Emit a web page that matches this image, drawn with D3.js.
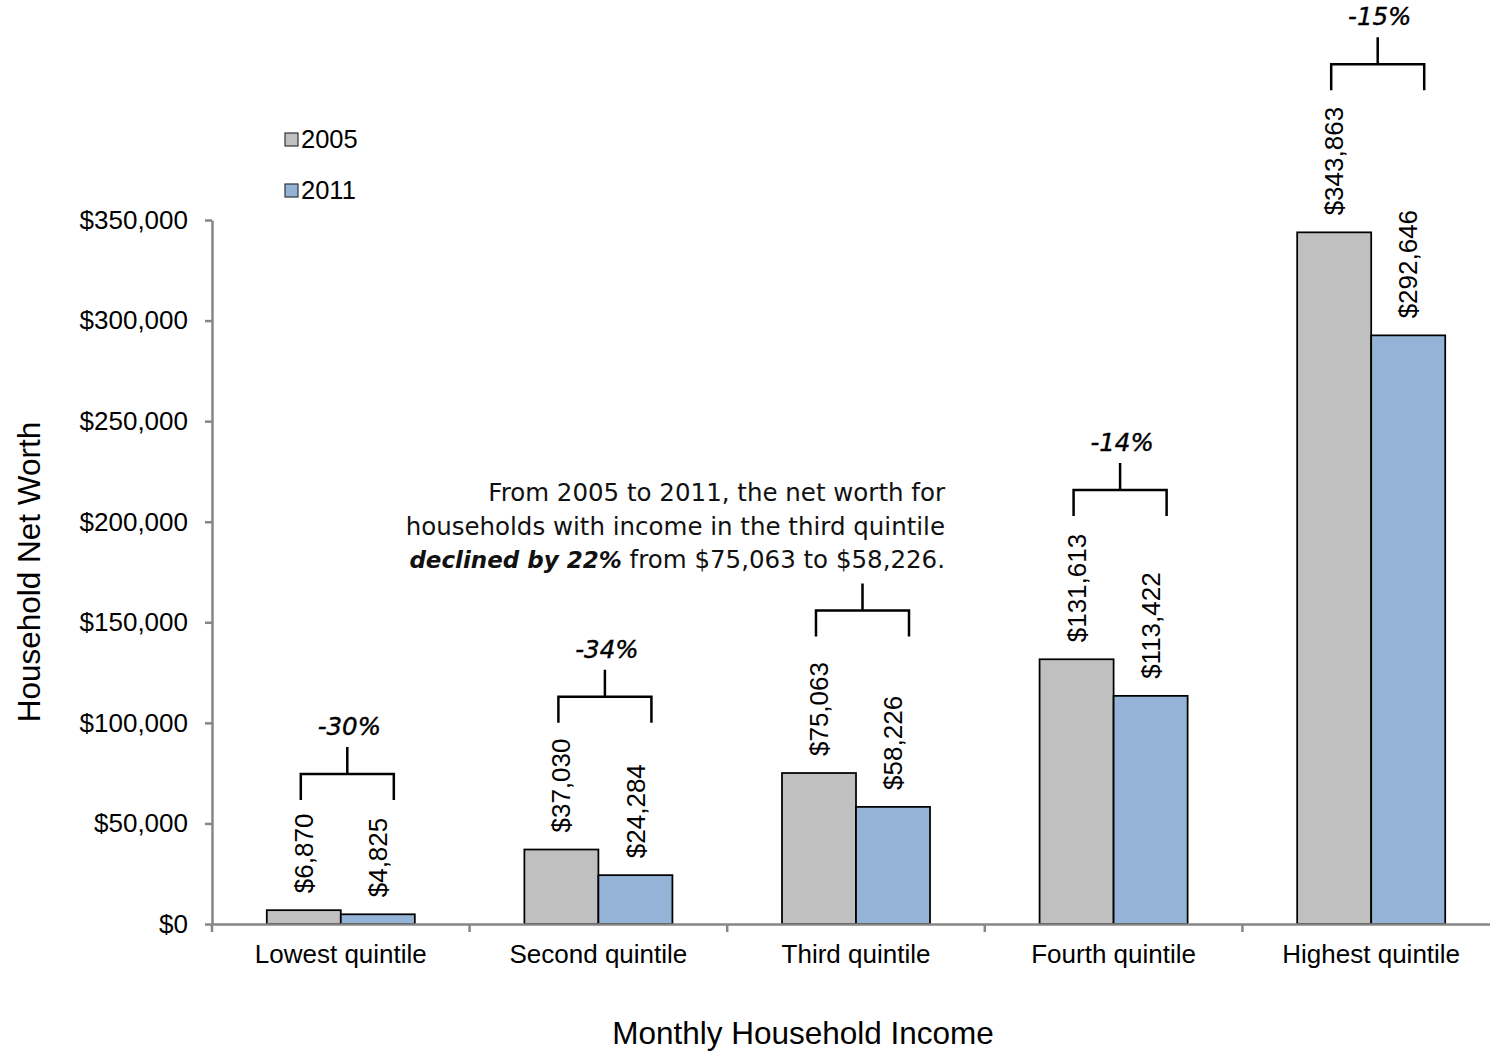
<!DOCTYPE html>
<html>
<head>
<meta charset="utf-8">
<script src="https://cdn.jsdelivr.net/npm/d3@7"></script>
<style>
  html, body { margin: 0; padding: 0; background: #fff; }
  svg { display: block; }
</style>
</head>
<body>
<svg id="chart" width="1490" height="1053"></svg>
<script>
// Household net worth by income quintile, 2005 vs 2011
const categories = ["Lowest quintile", "Second quintile", "Third quintile", "Fourth quintile", "Highest quintile"];
const years = ["2005", "2011"];
const values2005 = [6870, 37030, 75063, 131613, 343863];
const values2011 = [4825, 24284, 58226, 113422, 292646];
const yTickValues = [0, 50000, 100000, 150000, 200000, 250000, 300000, 350000];
// dollar level at which each change bracket is drawn
const bracketLevels = [74600, 113000, 155800, 215800, 427400];
// the third quintile carries a text note instead of a percent label
const showPercent = [true, true, false, true, true];
const noteLines = [
  [{ t: "From 2005 to 2011, the net worth for" }],
  [{ t: "households with income in the third quintile" }],
  [{ t: "declined by 22%", strong: true }, { t: " from $75,063 to $58,226." }]
];

const colors = { "2005": "#c0c0c0", "2011": "#95b3d7" };
const axisColor = "#868686";
const arial = "'Liberation Sans', Arial, sans-serif";
const gothic = "'DejaVu Sans', sans-serif";

const svg = d3.select("#chart");

const x = d3.scaleBand().domain(categories).range([212, 1500]).padding(0);
const xs = d3.scaleBand().domain(years).range([0, x.bandwidth()]).paddingInner(0).paddingOuter(0.74);
const y = d3.scaleLinear().domain([0, 350000]).range([924, 220]);

const rows = categories.map((c, i) => ({
  cat: c,
  vals: [{ year: "2005", v: values2005[i] }, { year: "2011", v: values2011[i] }],
  level: bracketLevels[i],
  pct: Math.round((values2011[i] - values2005[i]) / values2005[i] * 100),
  showPct: showPercent[i]
}));

// bars
const groups = svg.append("g").selectAll("g").data(rows).join("g")
  .attr("transform", d => `translate(${x(d.cat)},0)`);

groups.selectAll("rect").data(d => d.vals).join("rect")
  .attr("x", d => xs(d.year))
  .attr("y", d => y(d.v))
  .attr("width", xs.bandwidth())
  .attr("height", d => y(0) - y(d.v))
  .attr("fill", d => colors[d.year])
  .attr("stroke", "#000")
  .attr("stroke-width", 1.75);

// value labels, rotated, above each bar
groups.selectAll("text.val").data(d => d.vals).join("text")
  .attr("class", "val")
  .attr("transform", d => `translate(${xs(d.year) + xs.bandwidth() / 2},${y(d.v) - 17}) rotate(-90)`)
  .attr("dy", "0.35em")
  .attr("font-family", arial)
  .attr("font-size", 26)
  .attr("fill", "#000")
  .text(d => "$" + d3.format(",")(d.v));

// y axis
const yAxis = svg.append("g")
  .attr("transform", "translate(212,0)")
  .call(d3.axisLeft(y).tickValues(yTickValues)
    .tickFormat(d => "$" + d3.format(",")(d))
    .tickSizeInner(7).tickSizeOuter(0).tickPadding(17));
yAxis.select(".domain").attr("stroke", axisColor).attr("stroke-width", 2.5);
yAxis.selectAll(".tick line").attr("stroke", axisColor).attr("stroke-width", 2.5);
yAxis.selectAll(".tick text").attr("font-family", arial).attr("font-size", 26).attr("fill", "#000");

// x axis: labels at band centres, tick marks at band edges
const xAxis = svg.append("g")
  .attr("transform", `translate(0,${y(0)})`)
  .call(d3.axisBottom(x).tickSizeInner(0).tickSizeOuter(0).tickPadding(21));
xAxis.select(".domain").attr("stroke", axisColor).attr("stroke-width", 2.5);
xAxis.selectAll(".tick text").attr("font-family", arial).attr("font-size", 26).attr("fill", "#000");
xAxis.selectAll("line.edge").data(categories).join("line")
  .attr("class", "edge")
  .attr("x1", d => x(d)).attr("x2", d => x(d))
  .attr("y1", 0).attr("y2", 8)
  .attr("stroke", axisColor).attr("stroke-width", 2.5);

// axis titles
svg.append("text")
  .attr("transform", `translate(29,${(y(0) + y(350000)) / 2}) rotate(-90)`)
  .attr("text-anchor", "middle")
  .attr("dy", "0.35em")
  .attr("font-family", arial).attr("font-size", 31.5)
  .text("Household Net Worth");

svg.append("text")
  .attr("x", 803).attr("y", 1044)
  .attr("text-anchor", "middle")
  .attr("font-family", arial).attr("font-size", 31.5)
  .text("Monthly Household Income");

// legend
const legend = svg.append("g").attr("transform", "translate(285,133)");
const li = legend.selectAll("g").data(years).join("g")
  .attr("transform", (d, i) => `translate(0,${i * 51})`);
li.append("rect")
  .attr("width", 13).attr("height", 13)
  .attr("fill", d => colors[d])
  .attr("stroke", "#333").attr("stroke-width", 1.2);
li.append("text")
  .attr("x", 16).attr("y", 14.5)
  .attr("font-family", arial).attr("font-size", 25.5)
  .text(d => d);

// change brackets
const br = svg.append("g").selectAll("g").data(rows).join("g")
  .attr("transform", d => `translate(${x(d.cat)},${y(d.level)})`);
const legL = xs("2005") + xs.bandwidth() / 2 - 3;
const legR = xs("2011") + xs.bandwidth() / 2 + 16;
const stemX = (legL + legR) / 2;
br.append("path")
  .attr("d", `M${legL},26 V0 H${legR} V26 M${stemX},0 V-27`)
  .attr("fill", "none")
  .attr("stroke", "#000")
  .attr("stroke-width", 2.5);
br.filter(d => d.showPct).append("text")
  .attr("x", stemX + 2).attr("y", -39)
  .attr("text-anchor", "middle")
  .attr("font-family", gothic).attr("font-style", "italic")
  .attr("font-size", 24.5)
  .attr("stroke", "#000").attr("stroke-width", 0.4)
  .text(d => d.pct + "%");

// note for the third quintile
const noteRight = x("Third quintile") + x.bandwidth() / 2 + 89;
const note = svg.append("text")
  .attr("text-anchor", "end")
  .attr("font-family", gothic).attr("font-size", 24.5)
  .attr("fill", "#111");
noteLines.forEach((parts, i) => {
  parts.forEach((p, j) => {
    const ts = note.append("tspan").text(p.t);
    if (j === 0) ts.attr("x", noteRight).attr("y", 501 + i * 33.6);
    if (p.strong) ts.attr("font-weight", "bold").attr("font-style", "italic").attr("font-size", 23);
  });
});
</script>
</body>
</html>
